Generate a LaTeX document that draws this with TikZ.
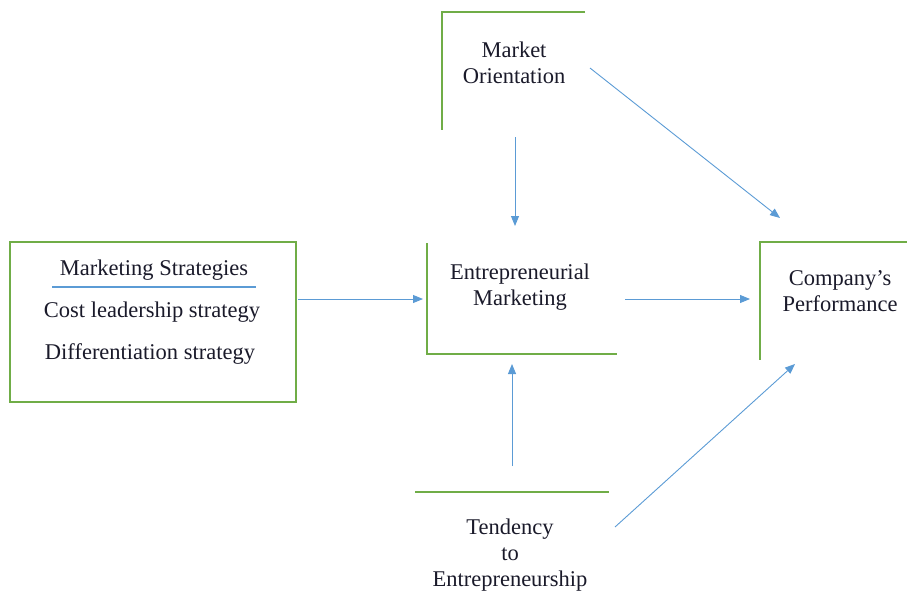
\documentclass[tikz,border=0pt]{standalone}
\usepackage{fontspec}
\setmainfont{Liberation Serif}
\usetikzlibrary{arrows.meta}
\definecolor{boxgreen}{HTML}{70AD47}
\definecolor{arrblue}{HTML}{5B9BD5}
\definecolor{txt}{HTML}{1A1A2A}
\tikzset{
  frame/.style={draw=boxgreen, line width=2pt},
  lbl/.style={text=txt, font=\fontsize{22.5}{26}\selectfont, align=center, inner sep=0pt},
  conn/.style={draw=arrblue, line width=0.9pt, -{Triangle[length=10pt,width=8pt]}}
}
\begin{document}
\begin{tikzpicture}[x=1pt,y=-1pt]
\useasboundingbox (0,0) rectangle (907,592);
% Marketing strategies box
\draw[frame] (10,242) rectangle (296,402);
\node[lbl] (ms) at (154,270) {Marketing Strategies};
\draw[arrblue, line width=1.5pt] (52,287) -- (256,287);
\node[lbl] (cl) at (152,312) {Cost leadership strategy};
\node[lbl] (ds) at (150,354) {Differentiation strategy};
% Market orientation
\draw[frame] (585,12) -- (442,12) -- (442,130);
\node[lbl] (mo) at (514,63) {Market\\Orientation};
% Entrepreneurial marketing
\draw[frame] (427,243) -- (427,354) -- (617,354);
\node[lbl] (em) at (520,287) {Entrepreneurial\\Marketing};
% Company's performance
\draw[frame] (907,242) -- (760,242) -- (760,360);
\node[lbl] (cp) at (840,291) {Company's\\Performance};
% Tendency
\draw[frame] (415,492) -- (609,492);
\node[lbl] (te) at (510,555) {Tendency\\to\\Entrepreneurship};
% connector endpoints
\coordinate (a1s) at (298,299); \coordinate (a1e) at (423,299);
\coordinate (a2s) at (625,299); \coordinate (a2e) at (750,299);
\coordinate (a3s) at (515,137); \coordinate (a3e) at (515,226);
\coordinate (a4s) at (512,466); \coordinate (a4e) at (512,364);
\coordinate (a5s) at (590,68);  \coordinate (a5e) at (780,218);
\coordinate (a6s) at (615,527); \coordinate (a6e) at (795,364);
\draw[conn] (a1s) -- (a1e);
\draw[conn] (a2s) -- (a2e);
\draw[conn] (a3s) -- (a3e);
\draw[conn] (a4s) -- (a4e);
\draw[conn] (a5s) -- (a5e);
\draw[conn] (a6s) -- (a6e);
\end{tikzpicture}
\end{document}
